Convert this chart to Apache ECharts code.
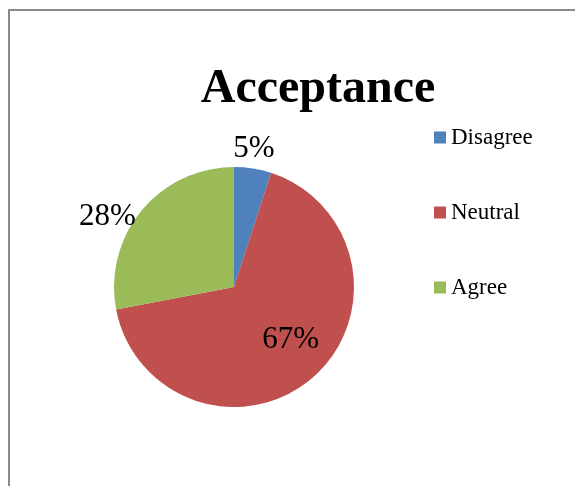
<!DOCTYPE html>
<html>
<head>
<meta charset="utf-8">
<script src="https://cdn.jsdelivr.net/npm/echarts@6/dist/echarts.min.js"></script>
<style>
html,body{margin:0;padding:0;background:#fff;}
#chart{width:575px;height:486px;}
</style>
</head>
<body>
<div id="chart"></div>
<script>
const categories = ['Disagree', 'Neutral', 'Agree'];
const values = [5, 67, 28];
const colors = ['#4F81BD', '#C0504D', '#9BBB59'];
const titleText = 'Acceptance';

const serif = "'Liberation Serif', 'Times New Roman', serif";
// label nudges (relative to the library's inside label anchor) to match the original placement
const labelNudge = [[10, -76], [15, 6], [-78, -30]];

const chart = echarts.init(document.getElementById('chart'));
chart.setOption({
  animation: false,
  backgroundColor: '#ffffff',
  title: {
    text: titleText,
    left: 313,
    textAlign: 'center',
    top: 61,
    textStyle: { fontFamily: serif, fontSize: 48, fontWeight: 'bold', color: '#000' }
  },
  legend: {
    orient: 'vertical',
    left: 429,
    top: 121,
    icon: 'rect',
    itemWidth: 12,
    itemHeight: 12,
    itemGap: 52,
    data: categories,
    textStyle: { fontFamily: serif, fontSize: 23, lineHeight: 23, color: '#000' }
  },
  graphic: [{
    type: 'rect',
    shape: { x: 9, y: 10, width: 700, height: 700 },
    style: { fill: 'none', stroke: '#8a8a8a', lineWidth: 2 },
    silent: true
  }],
  series: [{
    type: 'pie',
    center: [234, 287],
    radius: [0, 120],
    startAngle: 90,
    clockwise: true,
    avoidLabelOverlap: false,
    emphasis: { disabled: true },
    labelLine: { show: false },
    label: {
      show: true,
      position: 'inside',
      formatter: '{c}%',
      fontFamily: serif,
      fontSize: 31,
      color: '#000'
    },
    labelLayout: function (params) {
      const n = labelNudge[params.dataIndex];
      return { dx: n[0], dy: n[1], hideOverlap: false };
    },
    data: categories.map((name, i) => ({
      name: name,
      value: values[i],
      itemStyle: { color: colors[i] }
    }))
  }]
});
</script>
</body>
</html>
